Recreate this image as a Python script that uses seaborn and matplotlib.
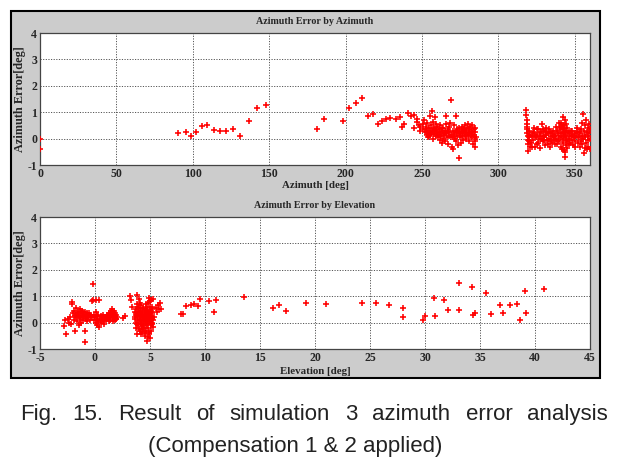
import numpy as np
import matplotlib
matplotlib.use("Agg")
import matplotlib.pyplot as plt
import seaborn as sns
from matplotlib.patches import Rectangle

# ---- top panel: azimuth error vs azimuth ----
az_sparse = [0, 0, 90.5, 95.7, 99, 102, 106, 109, 114, 118, 121.6, 126, 131, 136.6, 141.8, 148,
             181, 186, 198, 202, 207, 211, 215, 218, 221.5, 224, 226.4, 229, 233, 235.4, 236.7,
             238, 240.6, 243, 245, 244.5, 247, 248.4, 248, 249, 246.5]
err_az_sparse = [0.0, -0.4, 0.23, 0.26, 0.08, 0.26, 0.48, 0.5, 0.33, 0.3, 0.3, 0.35, 0.11, 0.65, 1.17, 1.27,
                 0.35, 0.73, 0.65, 1.15, 1.33, 1.52, 0.86, 0.93, 0.55, 0.68, 0.74, 0.77, 0.74, 0.8, 0.43,
                 0.55, 0.96, 0.87, 0.9, 0.39, 0.62, 0.3, 0.52, 0.45, 0.75]

az_west = [250.5, 251, 251.5, 252, 252.5, 253, 253, 253.5, 254, 254, 254.5, 255, 255, 255.5, 256, 256,
           256.5, 257, 257, 257.5, 258, 258, 258.5, 259, 259, 259.5, 260, 260, 260.5, 261, 261, 261.5,
           262, 262, 262.5, 263, 263, 263.5, 264, 264, 264.5, 265, 265, 265.5, 266, 266, 266.5, 267,
           267, 267.5, 268, 268, 268.5, 269, 269, 269.5, 270, 270, 270.5, 271, 271, 271.5, 272, 272,
           272.5, 273, 273, 273.5, 274, 274, 274.5, 275, 275, 275.5, 276, 276, 276.5, 277, 277, 277.5,
           278, 278, 278.5, 279, 279, 279.5, 280, 280, 280.5, 281, 281, 281.5, 282, 282, 282.5, 283,
           283, 283.5, 284, 284, 284.5, 285, 285, 285.5, 285, 284.5,
           252.8, 254.8, 256.8, 258.8, 260.8, 262.8, 264.8, 266.8, 268.8, 270.8, 272.8, 274.8, 276.8,
           278.8, 280.8, 282.8]
err_west = [0.55, 0.35, 0.7, 0.25, 0.45, 0.15, 0.3, 0.6, 0.2, 0.05, 0.4, 0.28, 0.85, 0.12, 0.5, 0.2,
            1.05, 0.35, 0.0, 0.62, 0.18, 0.42, 0.8, 0.1, 0.3, 0.55, 0.22, 0.45, 0.05, 0.35, 0.15, -0.05,
            0.25, 0.5, 0.1, 0.3, -0.15, 0.2, 0.4, 0.0, 0.15, 0.3, -0.1, 0.55, 0.85, 0.2, 0.05, 0.35,
            -0.2, 0.1, 0.45, 0.25, 0.6, 1.48, 0.15, -0.3, 0.3, 0.05, -0.4, 0.2, 0.5, 0.0, 0.85, 0.25,
            -0.1, 0.35, 0.1, -0.25, 0.2, -0.74, 0.4, 0.05, 0.25, -0.15, 0.3, 0.45, 0.1, 0.2, -0.05, 0.35,
            0.15, 0.5, 0.25, 0.0, 0.3, 0.4, 0.15, 0.55, 0.2, 0.35, -0.1, 0.45, 0.25, 0.05, 0.3, 0.5,
            0.1, -0.2, 0.35, 0.15, 0.0, 0.25, -0.1, 0.05, 0.4, -0.3,
            0.38, 0.1, 0.25, 0.33, 0.12, 0.4, 0.22, 0.3, 0.05, 0.12, 0.28, 0.15, 0.38, 0.08, 0.22, 0.2]

az_north = [318.2, 318.4, 318.5, 318.6, 318.8, 319, 319, 319.2, 319.4, 319.5, 319.6, 319.8, 320, 320.2,
            320.5, 321, 321.5, 322, 322.5, 323, 323.5, 324, 324.5, 325, 325.5, 326, 326.5, 327, 327.5,
            328, 328.5, 329, 329.5, 330, 330, 330.5, 331, 331.5, 332, 332.5, 333, 333.5, 334, 334.5,
            335, 335.5, 336, 336.5, 337, 337.5, 338, 338.5, 339, 339.5, 340, 340, 340.5, 341, 341,
            341.5, 342, 342, 342.5, 342.5, 343, 343, 343.5, 343.5, 344, 344, 344.5, 344.5, 345, 345.5,
            346, 346.5, 347, 347.5, 348, 348.5, 349, 349.5, 350, 350.5, 351, 351.5, 352, 352.5, 353,
            353.5, 354, 354.5, 355, 355, 355.5, 355.5, 356, 356, 356.5, 356.5, 357, 357, 357.5, 357.5,
            358, 358, 358.5, 358.5, 359, 359, 359.5, 359.5, 360, 360, 359.8,
            322.2, 323.2, 324.2, 325.2, 326.2, 327.2, 328.2, 329.2, 330.2, 331.2, 332.2, 333.2, 334.2,
            335.2, 336.2, 337.2, 338.2, 339.2, 340.2, 341.2, 342.2, 343.2, 344.2, 345.2, 346.2, 347.2,
            348.2, 349.2, 350.2, 351.2, 352.2, 353.2, 354.2, 340.7, 341.7, 342.7, 343.7, 344.7, 342.9,
            343.9, 341.9]
err_north = [1.07, 0.9, 0.7, 0.55, 0.35, 0.2, 0.45, -0.05, -0.2, -0.48, 0.1, 0.3, -0.1, 0.05,
             -0.3, 0.15, -0.15, 0.1, 0.25, -0.05, 0.2, -0.3, 0.05, 0.15, -0.2, 0.35, 0.0, 0.1, -0.35,
             0.25, 0.55, 0.1, -0.1, 0.3, 0.05, -0.25, 0.4, 0.15, -0.05, 0.2, 0.0, -0.3, 0.25, 0.1,
             -0.15, 0.05, 0.3, -0.05, 0.15, 0.45, 0.0, -0.2, 0.2, 0.6, 0.1, -0.1, 0.35, 0.05, -0.3,
             0.5, 0.2, -0.15, 0.8, 0.0, 0.4, -0.45, -0.7, 0.15, 0.3, -0.25, 0.05, 0.55, -0.1, 0.2,
             0.0, -0.2, 0.1, 0.3, -0.05, 0.15, -0.25, 0.05, 0.2, -0.1, 0.1, 0.4, -0.15, 0.25, 0.05,
             -0.3, 0.35, 0.1, 0.6, -0.2, 0.95, 0.0, -0.55, 0.3, 0.15, -0.35, 0.5, 0.05, -0.15, 0.7,
             0.25, -0.4, 0.4, -0.05, 0.1, -0.3, 0.55, 0.2, -0.4, 0.0, 0.35,
             -0.3, 0.4, 0.1, 0.35, -0.15, 0.2, 0.0, 0.35, -0.05, 0.25, -0.2, 0.35, -0.1, 0.2, 0.1,
             -0.2, 0.3, -0.05, 0.45, 0.2, 0.35, 0.1, -0.05, 0.4, 0.25, -0.15, 0.3, 0.1, -0.3, 0.25,
             0.05, 0.2, -0.1, 0.6, -0.4, 0.5, 0.7, -0.35, 0.25, -0.5, 0.45]

# ---- bottom panel: azimuth error vs elevation ----
el_sparse = [2.55, 2.7, 7.8, 8.0, 8.3, 8.7, 9.0, 9.4, 9.5, 10.4, 10.8, 11.0, 13.5, 16.2, 16.7, 17.4,
             19.2, 21.0, 24.3, 25.5, 26.7, 28.0, 28.0, 29.8, 30.0, 30.8, 30.9, 31.7, 32.1, 33.1, 33.1,
             34.3, 34.4, 34.5, 35.5, 36.0, 36.8, 37.1, 37.7, 38.4, 38.6, 39.1, 39.2, 40.8]
err_el_sparse = [0.19, 0.24, 0.31, 0.34, 0.62, 0.66, 0.69, 0.62, 0.9, 0.81, 0.41, 0.86, 0.96, 0.56,
                 0.66, 0.45, 0.76, 0.72, 0.76, 0.74, 0.66, 0.56, 0.22, 0.09, 0.26, 0.92, 0.25, 0.84,
                 0.47, 1.5, 0.49, 1.34, 0.3, 0.35, 1.12, 0.31, 0.67, 0.35, 0.65, 0.72, 0.1, 1.19, 0.37,
                 1.27]

el_low = [-2.85, -2.7, -2.65, -2.5, -2.4, -2.3, -2.2, -2.1, -2.05, -2.0, -1.95, -1.9, -1.85, -1.8,
          -1.75, -1.7, -1.65, -1.6, -1.55, -1.5, -1.45, -1.4, -1.35, -1.3, -1.25, -1.2, -1.15, -1.1,
          -1.05, -1.0, -0.95, -0.9, -0.9, -0.85, -0.8, -0.75, -0.7, -0.65, -0.6, -0.5, -0.45, -0.4,
          -0.3, -0.25, -0.2, -0.15, -0.1, -0.05, 0.0, 0.05, 0.1, 0.1, 0.15, 0.2, 0.25, 0.3, 0.35, 0.4,
          0.45, 0.5, 0.55, 0.6, 0.7, 0.75, 0.8, 0.85, 0.9, 1.0, 1.05, 1.1, 1.2, 1.25, 1.3, 1.35, 1.4,
          1.45, 1.5, 1.55, 1.6, 1.6, 1.65, 1.7, 1.7, 1.75, 1.8, 1.85, 1.9, 1.95, 2.0,
          -1.72, -1.52, -1.32, -1.12, -0.82, -0.55, 0.22, 0.62, 1.15, 1.42, 1.62, 1.78, 1.88]
err_el_low = [-0.12, 0.1, -0.44, 0.15, 0.0, 0.2, -0.05, 0.79, 0.7, 0.35, 0.1, 0.45, 0.25, -0.3,
              0.2, 0.55, 0.05, 0.3, 0.4, -0.1, 0.25, 0.15, 0.5, 0.35, 0.0, 0.2, 0.45, 0.3,
              0.1, 0.25, -0.33, -0.73, 0.4, 0.15, 0.3, 0.35, 0.05, 0.25, 0.2, 0.3, 0.1, 0.25,
              0.2, 0.8, 1.47, 0.85, 0.3, 0.1, 0.2, 0.0, 0.86, 0.4, -0.1, 0.15, 0.3, 0.05, -0.15, 0.86,
              0.1, 0.25, 0.0, 0.15, 0.05, 0.3, 0.1, -0.05, 0.2, 0.1, 0.3, 0.15, 0.25, 0.05, 0.35, 0.2, 0.1,
              0.45, 0.25, 0.5, 0.15, 0.35, 0.05, 0.3, 0.45, 0.2, 0.1, 0.25, 0.15, 0.3, 0.2,
              0.28, 0.35, 0.22, 0.4, 0.18, 0.38, 0.25, 0.2, 0.18, 0.3, 0.22, 0.35, 0.12]

el_mid = [3.2, 3.3, 3.35, 3.6, 3.65, 3.7, 3.7, 3.75, 3.8, 3.8, 3.85, 3.9, 3.95, 3.95, 4.0, 4.0, 4.05,
          4.1, 4.1, 4.15, 4.2, 4.2, 4.25, 4.3, 4.3, 4.35, 4.4, 4.4, 4.45, 4.5, 4.5, 4.55, 4.6, 4.6,
          4.65, 4.7, 4.7, 4.75, 4.75, 4.8, 4.8, 4.85, 4.85, 4.9, 4.9, 4.95, 4.95, 5.0, 5.0, 5.05,
          5.05, 5.1, 5.1, 5.15, 5.15, 5.2, 5.2, 5.25, 5.3, 5.4, 5.5, 5.6, 5.7, 5.8, 5.9, 6.0,
          3.75, 3.85, 3.9, 4.0, 4.05, 4.1, 4.15, 4.25, 4.3, 4.35, 4.4, 4.45, 4.5, 4.55, 4.6, 4.65,
          4.7, 4.75, 4.8, 4.85, 4.9, 4.95, 5.0, 5.0, 5.05, 5.1, 5.15, 5.2, 4.55, 4.65, 4.85, 3.95,
          4.2, 3.65, 3.8, 4.05, 4.45, 4.6, 4.75, 4.9, 5.05, 5.15, 5.25, 3.7, 4.15, 4.35, 4.8, 5.1]
err_el_mid = [1.02, 0.85, 0.6, 0.4, 0.2, 0.0, -0.2, 0.5, 1.05, -0.45, 0.7, 0.3, 0.1, -0.1, 0.9,
              0.55, 0.25, -0.3, 0.15, 0.4, 0.0, 0.65, -0.15, 0.3, 0.1, 0.5, -0.25, 0.2, 0.05, 0.35,
              -0.4, 0.15, 0.6, -0.1, 0.25, -0.7, 0.0, 0.45, 0.1, -0.55, 0.3, 0.75, -0.2, 0.15, 0.95,
              -0.35, 0.4, 0.05, 0.6, -0.1, 0.25, 0.85, -0.3, 0.35, 0.0, 0.5, 0.15, -0.15, 0.9, 0.2,
              0.55, 0.4, 0.65, 0.5, 0.75, 0.5,
              0.3, -0.05, 0.6, -0.25, 0.45, 0.75, -0.05, 0.35, -0.35, 0.2, 0.55, -0.2, 0.1, 0.45,
              0.3, -0.3, 0.5, -0.05, 0.15, 0.35, -0.45, 0.2, -0.6, 0.8, 0.45, 0.1, 0.6, -0.05,
              -0.5, 0.7, 0.05, 0.4, -0.45, 0.15, 0.25, 0.1, 0.25, 0.05, 0.2, 0.3, 0.0, 0.2, 0.1,
              0.35, 0.05, -0.1, 0.25, 0.4]

azimuth = az_sparse + az_west + az_north
err_by_az = err_az_sparse + err_west + err_north
elevation = el_sparse + el_low + el_mid
err_by_el = err_el_sparse + err_el_low + err_el_mid

az_ticks = [0, 50, 100, 150, 200, 250, 300, 350]
el_ticks = [-5, 0, 5, 10, 15, 20, 25, 30, 35, 40, 45]
err_ticks = [-1, 0, 1, 2, 3, 4]

caption_1 = "Fig. 15. Result of simulation 3 azimuth error analysis"
caption_2 = "(Compensation 1 & 2 applied)"

sns.set_style("white")
plt.rcParams["font.family"] = ["Liberation Serif", "DejaVu Serif"]
plt.rcParams["axes.unicode_minus"] = False

W, H = 620, 468
fig = plt.figure(figsize=(6.2, 4.68), dpi=100)

# grey matlab-like figure panel, kept behind the axes
fig.patches.append(Rectangle((11 / W, 1 - 378 / H), 589 / W, 367 / H, transform=fig.transFigure,
                             facecolor="#cccccc", edgecolor="black", linewidth=1.5, zorder=-5))

ax1 = fig.add_axes([40 / W, 1 - 165 / H, 550 / W, 132 / H])
ax2 = fig.add_axes([40 / W, 1 - 349 / H, 550 / W, 132 / H])
ax1.set_zorder(2)
ax2.set_zorder(2)

panels = [
    (ax1, azimuth, err_by_az, (0, 360), az_ticks, "Azimuth Error by Azimuth", "Azimuth [deg]", 21, 186),
    (ax2, elevation, err_by_el, (-5, 45), el_ticks, "Azimuth Error by Elevation", "Elevation [deg]", 205, 371),
]

for ax, xs, ys, xlim, xticks, title, xlabel, ty, ly in panels:
    ax.set_facecolor("white")
    sns.scatterplot(x=xs, y=ys, ax=ax, marker="+", color="red", s=18, linewidth=1.15, zorder=3)
    ax.set_xlim(*xlim)
    ax.set_ylim(-1, 4)
    ax.set_xticks(xticks)
    ax.set_yticks(err_ticks)
    ax.grid(True, color="#555555", linestyle=(0, (1.2, 1.5)), linewidth=0.7)
    ax.tick_params(direction="in", length=3, pad=2, labelsize=8.5)
    for lab in ax.get_xticklabels() + ax.get_yticklabels():
        lab.set_fontweight("bold")
    for sp in ax.spines.values():
        sp.set_color("#444444")
        sp.set_linewidth(0.9)
    ax.set_xlabel("")
    ax.set_ylabel("")
    fig.text(315 / W, 1 - ty / H, title, ha="center", va="center", fontsize=7.2, fontweight="bold")
    fig.text(315 / W, 1 - ly / H, xlabel, ha="center", va="center", fontsize=7.8, fontweight="bold")
    pos = ax.get_position()
    fig.text(20 / W, pos.y0 + pos.height / 2, "Azimuth Error[deg]", rotation=90, ha="center",
             va="center", fontsize=8.8, fontweight="bold")

# caption, first line justified between x=20 and x=608 like the printed figure
cap_font = ["Liberation Sans", "DejaVu Sans"]
renderer = fig.canvas.get_renderer()
words = caption_1.split()
texts = [fig.text(0, 1 - 420 / H, w, ha="left", va="baseline", fontsize=16, family=cap_font,
                  color="#222222") for w in words]
widths = [t.get_window_extent(renderer).width for t in texts]
gap = (588 - sum(widths)) / (len(words) - 1)
x = 20.0
for t, w in zip(texts, widths):
    t.set_x(x / W)
    x += w + gap
fig.text(148 / W, 1 - 452 / H, caption_2, ha="left", va="baseline", fontsize=16, family=cap_font,
         color="#222222")

fig.savefig("out.png", dpi=100)
